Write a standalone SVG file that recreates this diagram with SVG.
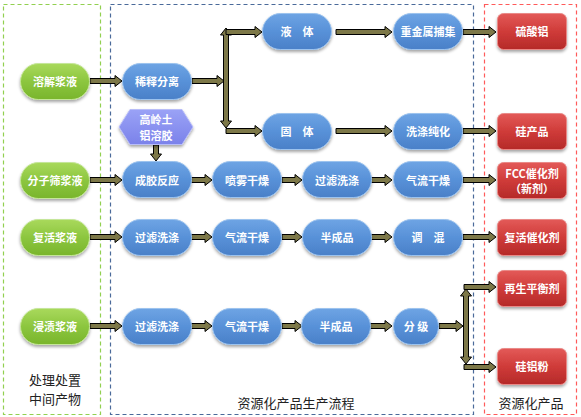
<svg xmlns="http://www.w3.org/2000/svg" width="581" height="417" viewBox="0 0 581 417">
<defs>
<linearGradient id="gG" x1="0" y1="0" x2="0" y2="1"><stop offset="0" stop-color="#a9d95c"/><stop offset="0.5" stop-color="#8cc63f"/><stop offset="1" stop-color="#79b52c"/></linearGradient>
<linearGradient id="gB" x1="0" y1="0" x2="0" y2="1"><stop offset="0" stop-color="#6ea4e4"/><stop offset="0.5" stop-color="#5891d8"/><stop offset="1" stop-color="#4a80c8"/></linearGradient>
<linearGradient id="gR" x1="0" y1="0" x2="0" y2="1"><stop offset="0" stop-color="#e35a58"/><stop offset="0.5" stop-color="#cf3b39"/><stop offset="1" stop-color="#b52a29"/></linearGradient>
<linearGradient id="gH" x1="0" y1="0" x2="0" y2="1"><stop offset="0" stop-color="#9aa2f6"/><stop offset="1" stop-color="#7b82ea"/></linearGradient>
<filter id="sh" x="-20%" y="-20%" width="140%" height="150%"><feDropShadow dx="0" dy="2" stdDeviation="1.5" flood-color="#000" flood-opacity="0.35"/></filter>
</defs>
<style>
.t{font-family:"Noto Sans CJK SC","Liberation Sans",sans-serif;font-size:11px;font-weight:bold;fill:#fff;text-anchor:middle;dominant-baseline:central}
.lbl{font-family:"Noto Sans CJK SC","Liberation Sans",sans-serif;font-size:13px;fill:#222;text-anchor:middle}
.g{fill:url(#gG);stroke:#c5e69a;stroke-width:1;filter:url(#sh)}
.b{fill:url(#gB);stroke:#9cc3ee;stroke-width:1;filter:url(#sh)}
.r{fill:url(#gR);stroke:#e98a88;stroke-width:1;filter:url(#sh)}
.h{fill:url(#gH);stroke:#b8bdf8;stroke-width:1;filter:url(#sh)}
.arr{fill:#7d7848;stroke:#000;stroke-width:1;stroke-linejoin:miter}
.box{fill:none;stroke-width:1.2;stroke-dasharray:4 3}
</style>
<g id="regions">
<rect class="box" x="3.5" y="4.5" width="97" height="410" stroke="#92d050"/>
<rect class="box" x="110.5" y="4.5" width="363" height="410" stroke="#4a6a9a"/>
<rect class="box" x="484.5" y="4.5" width="92" height="410" stroke="#ff5a5a"/>
<text class="lbl" x="55" y="385">处理处置</text>
<text class="lbl" x="55" y="404">中间产物</text>
<text class="lbl" x="296" y="408">资源化产品生产流程</text>
<text class="lbl" x="531" y="408">资源化产品</text>
</g>
<g id="connectors">
<polygon class="arr" points="90,78.5 115,78.5 115,75.5 122,81 115,86.5 115,83.5 90,83.5"/>
<polygon class="arr" points="90,177.5 115,177.5 115,174.5 122,180 115,185.5 115,182.5 90,182.5"/>
<polygon class="arr" points="90,234.5 115,234.5 115,231.5 122,237 115,242.5 115,239.5 90,239.5"/>
<polygon class="arr" points="90,323.5 115,323.5 115,320.5 122,326 115,331.5 115,328.5 90,328.5"/>
<polygon class="arr" points="192,78.5 217,78.5 217,75.5 224,81 217,86.5 217,83.5 192,83.5"/>
<polygon class="arr" points="223.5,35 220.5,35 226,28 231.5,35 228.5,35 228.5,121 231.5,121 226,128 220.5,121 223.5,121"/>
<polygon class="arr" points="226,29.5 255,29.5 255,26.5 262,32 255,37.5 255,34.5 226,34.5"/>
<polygon class="arr" points="226,128.5 255,128.5 255,125.5 262,131 255,136.5 255,133.5 226,133.5"/>
<polygon class="arr" points="336,29.5 385,29.5 385,26.5 392,32 385,37.5 385,34.5 336,34.5"/>
<polygon class="arr" points="336,128.5 385,128.5 385,125.5 392,131 385,136.5 385,133.5 336,133.5"/>
<polygon class="arr" points="463,29.5 489,29.5 489,26.5 496,32 489,37.5 489,34.5 463,34.5"/>
<polygon class="arr" points="463,128.5 489,128.5 489,125.5 496,131 489,136.5 489,133.5 463,133.5"/>
<polygon class="arr" points="153.5,145 158.5,145 158.5,154 161.5,154 156,161 150.5,154 153.5,154"/>
<polygon class="arr" points="191,177.5 205,177.5 205,174.5 212,180 205,185.5 205,182.5 191,182.5"/>
<polygon class="arr" points="282,177.5 295,177.5 295,174.5 302,180 295,185.5 295,182.5 282,182.5"/>
<polygon class="arr" points="371,177.5 385,177.5 385,174.5 392,180 385,185.5 385,182.5 371,182.5"/>
<polygon class="arr" points="463,177.5 489,177.5 489,174.5 496,180 489,185.5 489,182.5 463,182.5"/>
<polygon class="arr" points="191,234.5 205,234.5 205,231.5 212,237 205,242.5 205,239.5 191,239.5"/>
<polygon class="arr" points="282,234.5 295,234.5 295,231.5 302,237 295,242.5 295,239.5 282,239.5"/>
<polygon class="arr" points="371,234.5 385,234.5 385,231.5 392,237 385,242.5 385,239.5 371,239.5"/>
<polygon class="arr" points="463,234.5 489,234.5 489,231.5 496,237 489,242.5 489,239.5 463,239.5"/>
<polygon class="arr" points="191,323.5 205,323.5 205,320.5 212,326 205,331.5 205,328.5 191,328.5"/>
<polygon class="arr" points="282,323.5 295,323.5 295,320.5 302,326 295,331.5 295,328.5 282,328.5"/>
<polygon class="arr" points="370,323.5 385,323.5 385,320.5 392,326 385,331.5 385,328.5 370,328.5"/>
<polygon class="arr" points="439,323.5 456,323.5 456,320.5 463,326 456,331.5 456,328.5 439,328.5"/>
<polygon class="arr" points="463.5,296 460.5,296 466,289 471.5,296 468.5,296 468.5,357 471.5,357 466,364 460.5,357 463.5,357"/>
<polygon class="arr" points="464,284.5 489,284.5 489,281.5 496,287 489,292.5 489,289.5 464,289.5"/>
<polygon class="arr" points="464,364.5 489,364.5 489,361.5 496,367 489,372.5 489,369.5 464,369.5"/>
</g>
<g id="n_rongjie"><rect class="g" x="20.5" y="63.5" width="69" height="36" rx="18"/><text class="t" x="55" y="81">溶解浆液</text></g>
<g id="n_fenzishai"><rect class="g" x="20.5" y="162.5" width="69" height="36" rx="18"/><text class="t" x="55" y="180">分子筛浆液</text></g>
<g id="n_fuhuo"><rect class="g" x="20.5" y="219.5" width="69" height="36" rx="18"/><text class="t" x="55" y="237">复活浆液</text></g>
<g id="n_jinzi"><rect class="g" x="20.5" y="308.5" width="69" height="36" rx="18"/><text class="t" x="55" y="326">浸渍浆液</text></g>
<g id="n_xishi"><rect class="b" x="122.5" y="63.5" width="69" height="36" rx="18"/><text class="t" x="157" y="81">稀释分离</text></g>
<g id="n_yeti"><rect class="b" x="262.5" y="13.5" width="69" height="36" rx="18"/><text class="t" x="297" y="31">液　体</text></g>
<g id="n_guti"><rect class="b" x="262.5" y="113.5" width="69" height="36" rx="18"/><text class="t" x="297" y="131">固　体</text></g>
<g id="n_zhongjinshu"><rect class="b" x="393.5" y="13.5" width="69" height="36" rx="18"/><text class="t" x="428" y="31">重金属捕集</text></g>
<g id="n_xidi"><rect class="b" x="393.5" y="113.5" width="69" height="36" rx="18"/><text class="t" x="428" y="131">洗涤纯化</text></g>
<g id="n_gaolingtu"><polygon class="h" points="130,109.5 182,109.5 193,127 182,144.5 130,144.5 119,127"/><text class="t" x="156" y="119">高岭土</text><text class="t" x="156" y="135">铝溶胶</text></g>
<g id="n_chengjiao"><rect class="b" x="122.5" y="161.5" width="69" height="36" rx="18"/><text class="t" x="157" y="179.5">成胶反应</text></g>
<g id="n_penwu"><rect class="b" x="212.5" y="161.5" width="69" height="36" rx="18"/><text class="t" x="247" y="179.5">喷雾干燥</text></g>
<g id="n_guolv1"><rect class="b" x="302.5" y="161.5" width="69" height="36" rx="18"/><text class="t" x="337" y="179.5">过滤洗涤</text></g>
<g id="n_qiliu1"><rect class="b" x="393.5" y="161.5" width="69" height="36" rx="18"/><text class="t" x="428" y="179.5">气流干燥</text></g>
<g id="n_guolv2"><rect class="b" x="122.5" y="219.5" width="69" height="36" rx="18"/><text class="t" x="157" y="237">过滤洗涤</text></g>
<g id="n_qiliu2"><rect class="b" x="212.5" y="219.5" width="69" height="36" rx="18"/><text class="t" x="247" y="237">气流干燥</text></g>
<g id="n_banchengpin1"><rect class="b" x="302.5" y="219.5" width="69" height="36" rx="18"/><text class="t" x="337" y="237">半成品</text></g>
<g id="n_tiaohun"><rect class="b" x="393.5" y="219.5" width="69" height="36" rx="18"/><text class="t" x="428" y="237">调　混</text></g>
<g id="n_guolv3"><rect class="b" x="122.5" y="308.5" width="69" height="36" rx="18"/><text class="t" x="157" y="326">过滤洗涤</text></g>
<g id="n_qiliu3"><rect class="b" x="212.5" y="308.5" width="69" height="36" rx="18"/><text class="t" x="247" y="326">气流干燥</text></g>
<g id="n_banchengpin2"><rect class="b" x="301.5" y="308.5" width="69" height="36" rx="18"/><text class="t" x="336" y="326">半成品</text></g>
<g id="n_fenji"><rect class="b" x="393.5" y="308.5" width="45" height="36" rx="18"/><text class="t" x="416" y="326">分 级</text></g>
<g id="n_liusuanlv"><rect class="r" x="497.5" y="13.5" width="69" height="36" rx="6"/><text class="t" x="532" y="31">硫酸铝</text></g>
<g id="n_guichanpin"><rect class="r" x="497.5" y="113.5" width="69" height="36" rx="6"/><text class="t" x="532" y="131">硅产品</text></g>
<g id="n_fcc"><rect class="r" x="497.5" y="162.5" width="69" height="36" rx="6"/><text class="t" x="532" y="173">FCC催化剂</text><text class="t" x="532" y="188">（新剂）</text></g>
<g id="n_fuhuocuihua"><rect class="r" x="497.5" y="219.5" width="69" height="36" rx="6"/><text class="t" x="532" y="237">复活催化剂</text></g>
<g id="n_zaisheng"><rect class="r" x="497.5" y="270.5" width="69" height="36" rx="6"/><text class="t" x="532" y="288">再生平衡剂</text></g>
<g id="n_guilvfen"><rect class="r" x="497.5" y="348.5" width="69" height="36" rx="6"/><text class="t" x="532" y="366">硅铝粉</text></g>
</svg>
